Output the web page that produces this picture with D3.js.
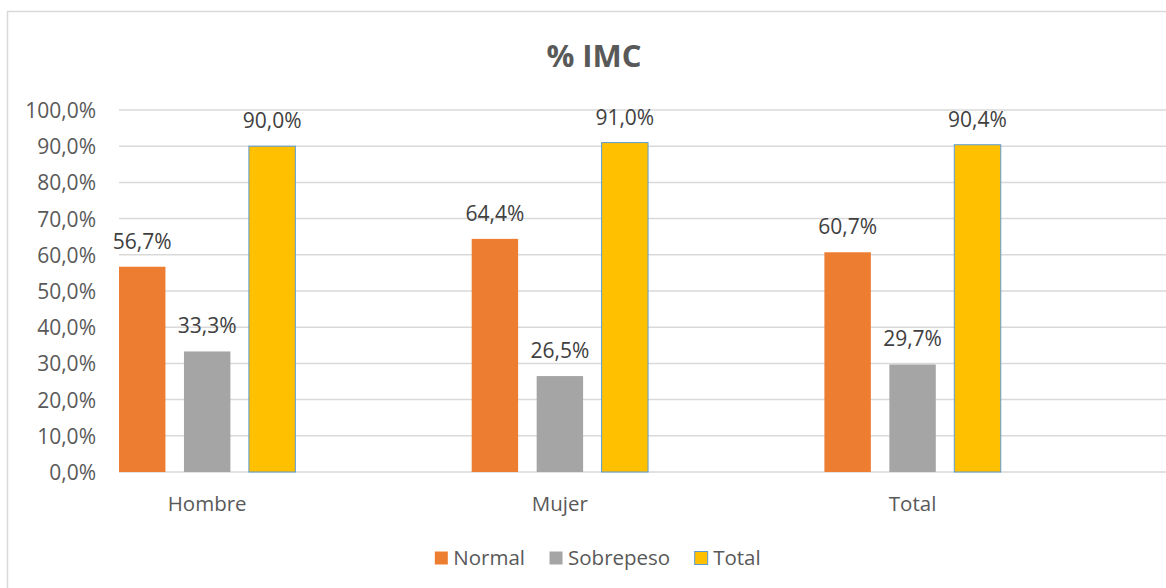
<!DOCTYPE html>
<html>
<head>
<meta charset="utf-8">
<script src="https://cdn.jsdelivr.net/npm/d3@7"></script>
<style>
  body { margin: 0; background: #fff; }
  svg { display: block; font-family: "Open Sans", sans-serif; }
</style>
</head>
<body>
<svg id="chart" width="1166" height="588"></svg>
<script>
// datos del gráfico
const categories = ["Hombre", "Mujer", "Total"];
const seriesNames = ["Normal", "Sobrepeso", "Total"];
const normal = [0.567, 0.644, 0.607];
const sobrepeso = [0.333, 0.265, 0.297];
const total = [0.900, 0.910, 0.904];
const yTicks = [0, 0.1, 0.2, 0.3, 0.4, 0.5, 0.6, 0.7, 0.8, 0.9, 1.0];

const colors = { Normal: "#ED7D31", Sobrepeso: "#A5A5A5", Total: "#FFC000" };

function drawChart() {
  const svg = d3.select("#chart");
  svg.selectAll("*").remove();

  const values = { Normal: normal, Sobrepeso: sobrepeso, Total: total };
  const fmt = v => d3.format(".1%")(v).replace(".", ",");

  // marco del gráfico (cortado a la derecha como en el original)
  svg.append("rect")
    .attr("x", 7.5).attr("y", 11.5)
    .attr("width", 1200).attr("height", 620)
    .attr("fill", "#fff").attr("stroke", "#D9D9D9").attr("stroke-width", 1.5);

  const left = 119, top = 110, bottom = 472;
  const bandW = 352.7;

  const x = d3.scaleBand().domain(categories)
    .range([left, left + bandW * categories.length]).paddingInner(0).paddingOuter(0);
  const xs = d3.scaleBand().domain(seriesNames)
    .range([0, x.bandwidth() / 2]).paddingInner(0.285).paddingOuter(0);
  const y = d3.scaleLinear().domain([0, 1]).range([bottom, top]);

  // título
  svg.append("text")
    .attr("x", 594).attr("y", 67)
    .attr("text-anchor", "middle")
    .attr("font-size", 31).attr("font-weight", "bold")
    .attr("fill", "#595959")
    .text("% IMC");

  // líneas de cuadrícula
  svg.append("g").selectAll("line").data(yTicks).join("line")
    .attr("x1", left).attr("x2", 1166)
    .attr("y1", d => y(d)).attr("y2", d => y(d))
    .attr("stroke", "#D9D9D9").attr("stroke-width", 1.5);

  // eje y
  const yAxis = svg.append("g")
    .attr("transform", `translate(${left - 23},0)`)
    .call(d3.axisLeft(y).tickValues(yTicks).tickSize(0).tickPadding(0).tickFormat(fmt));
  yAxis.select(".domain").remove();
  yAxis.selectAll("text")
    .attr("font-family", "Open Sans, sans-serif")
    .attr("font-size", 21).attr("fill", "#595959")
    .attr("dy", "0.36em");

  // etiquetas de categoría
  svg.append("g").selectAll("text").data(categories).join("text")
    .attr("x", d => x(d) + x.bandwidth() / 4)
    .attr("y", bottom + 39)
    .attr("text-anchor", "middle")
    .attr("font-size", 20.5).attr("fill", "#595959")
    .text(d => d);

  // barras
  seriesNames.forEach(s => {
    const g = svg.append("g");
    g.selectAll("rect").data(categories).join("rect")
      .attr("x", c => x(c) + xs(s))
      .attr("y", (c, i) => y(values[s][i]))
      .attr("width", xs.bandwidth())
      .attr("height", (c, i) => bottom - y(values[s][i]))
      .attr("fill", colors[s])
      .attr("stroke", s === "Total" ? "#5B9BD5" : "none")
      .attr("stroke-width", 1);
    g.selectAll("text").data(categories).join("text")
      .attr("x", c => x(c) + xs(s) + xs.bandwidth() / 2)
      .attr("y", (c, i) => y(values[s][i]) - 18)
      .attr("text-anchor", "middle")
      .attr("font-size", 21).attr("fill", "#404040")
      .text((c, i) => fmt(values[s][i]));
  });

  // leyenda
  const legend = svg.append("g");
  let lx = 0;
  seriesNames.forEach(s => {
    const item = legend.append("g").attr("transform", `translate(${lx},0)`);
    item.append("rect")
      .attr("x", 0.5).attr("y", -13.5).attr("width", 13).attr("height", 13)
      .attr("fill", colors[s])
      .attr("stroke", s === "Total" ? "#5B9BD5" : "none");
    const t = item.append("text")
      .attr("x", 19).attr("y", 0)
      .attr("font-size", 20.5).attr("fill", "#595959")
      .text(s);
    lx += 19 + t.node().getComputedTextLength() + 24;
  });
  const lw = lx - 24;
  legend.attr("transform", `translate(${597.5 - lw / 2},565)`);
}

window.addEventListener("DOMContentLoaded", drawChart);
</script>
</body>
</html>
